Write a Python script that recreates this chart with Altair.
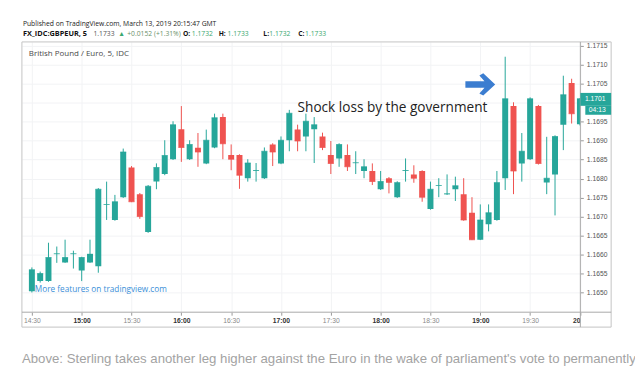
import altair as alt
import pandas as pd

# ---------------- data ----------------
DAY = "2019-03-13"
times = ["14:30", "14:35", "14:40", "14:45", "14:50", "14:55",
         "15:00", "15:05", "15:10", "15:15", "15:20", "15:25",
         "15:30", "15:35", "15:40", "15:45", "15:50", "15:55",
         "16:00", "16:05", "16:10", "16:15", "16:20", "16:25",
         "16:30", "16:35", "16:40", "16:45", "16:50", "16:55",
         "17:00", "17:05", "17:10", "17:15", "17:20", "17:25",
         "17:30", "17:35", "17:40", "17:45", "17:50", "17:55",
         "18:00", "18:05", "18:10", "18:15", "18:20", "18:25",
         "18:30", "18:35", "18:40", "18:45", "18:50", "18:55",
         "19:00", "19:05", "19:10", "19:15", "19:20", "19:25",
         "19:30", "19:35", "19:40", "19:45", "19:50", "19:55",
         "20:00"]
opens = [1.16503, 1.16530, 1.16530, 1.16601, 1.16579, 1.16601,
         1.16558, 1.16579, 1.16569, 1.16731, 1.16691, 1.16751,
         1.16829, 1.16759, 1.16659, 1.16792, 1.16812, 1.16851,
         1.16930, 1.16851, 1.16881, 1.16840, 1.16882, 1.16962,
         1.16862, 1.16862, 1.16801, 1.16820, 1.16801, 1.16890,
         1.16840, 1.16901, 1.16929, 1.16911, 1.16930, 1.16911,
         1.16862, 1.16853, 1.16862, 1.16841, 1.16820, 1.16820,
         1.16772, 1.16801, 1.16751, 1.16820, 1.16811, 1.16820,
         1.16720, 1.16781, 1.16759, 1.16772, 1.16759, 1.16710,
         1.16639, 1.16680, 1.16691, 1.16801, 1.16991, 1.16840,
         1.16851, 1.16991, 1.16790, 1.16811, 1.16942, 1.17052,
         1.16943]
highs = [1.16566, 1.16555, 1.16631, 1.16621, 1.16639, 1.16610,
         1.16594, 1.16639, 1.16775, 1.16792, 1.16757, 1.16879,
         1.16833, 1.16762, 1.16783, 1.16840, 1.16901, 1.16951,
         1.16991, 1.16901, 1.16920, 1.16929, 1.16971, 1.16971,
         1.16890, 1.16864, 1.16851, 1.16841, 1.16882, 1.16893,
         1.16911, 1.16981, 1.16942, 1.16971, 1.16962, 1.16921,
         1.16899, 1.16893, 1.16890, 1.16872, 1.16851, 1.16840,
         1.16820, 1.16804, 1.16793, 1.16853, 1.16835, 1.16822,
         1.16792, 1.16801, 1.16811, 1.16805, 1.16801, 1.16751,
         1.16732, 1.16732, 1.16820, 1.17121, 1.17001, 1.16920,
         1.17014, 1.16994, 1.16910, 1.16914, 1.17071, 1.17063,
         1.17012]
lows = [1.16500, 1.16526, 1.16528, 1.16578, 1.16578, 1.16563,
        1.16530, 1.16578, 1.16552, 1.16691, 1.16689, 1.16749,
        1.16738, 1.16694, 1.16657, 1.16772, 1.16809, 1.16849,
        1.16844, 1.16849, 1.16831, 1.16838, 1.16880, 1.16851,
        1.16822, 1.16773, 1.16792, 1.16792, 1.16799, 1.16833,
        1.16838, 1.16872, 1.16872, 1.16872, 1.16841, 1.16875,
        1.16812, 1.16831, 1.16820, 1.16812, 1.16801, 1.16783,
        1.16770, 1.16761, 1.16749, 1.16792, 1.16789, 1.16739,
        1.16718, 1.16751, 1.16757, 1.16741, 1.16689, 1.16638,
        1.16638, 1.16661, 1.16689, 1.16770, 1.16759, 1.16792,
        1.16849, 1.16837, 1.16759, 1.16703, 1.16875, 1.16945,
        1.16940]
closes = [1.16560, 1.16550, 1.16592, 1.16602, 1.16592, 1.16602,
          1.16592, 1.16601, 1.16772, 1.16732, 1.16739, 1.16870,
          1.16739, 1.16700, 1.16780, 1.16829, 1.16861, 1.16942,
          1.16882, 1.16890, 1.16870, 1.16901, 1.16960, 1.16892,
          1.16851, 1.16809, 1.16841, 1.16821, 1.16872, 1.16870,
          1.16901, 1.16972, 1.16899, 1.16951, 1.16942, 1.16882,
          1.16840, 1.16890, 1.16831, 1.16842, 1.16831, 1.16792,
          1.16792, 1.16790, 1.16790, 1.16821, 1.16801, 1.16751,
          1.16772, 1.16782, 1.16760, 1.16781, 1.16691, 1.16639,
          1.16691, 1.16710, 1.16790, 1.17010, 1.16820, 1.16872,
          1.17010, 1.16840, 1.16801, 1.16911, 1.17021, 1.16971,
          1.17010]

price_ticks = [1.1650, 1.1655, 1.1660, 1.1665, 1.1670, 1.1675, 1.1680,
               1.1685, 1.1690, 1.1695, 1.1700, 1.1705, 1.1710, 1.1715]
time_ticks = [(14, 30), (15, 0), (15, 30), (16, 0), (16, 30), (17, 0),
              (17, 30), (18, 0), (18, 30), (19, 0), (19, 30), (20, 0)]

last_price = 1.1701
countdown = "04:13"
annotation_text = "Shock loss by the government"
annotation_time = "17:10"
annotation_price = 1.16985
arrow_time = "19:00"
arrow_price = 1.17048

header1 = "Published on TradingView.com, March 13, 2019 20:15:47 GMT"
symbol_title = "British Pound / Euro, 5, IDC"
promo = "More features on tradingview.com"
caption = ("Above: Sterling takes another leg higher against the Euro in the wake "
           "of parliament's vote to permanently")

UP = "#26a69a"
DOWN = "#ef5350"

# ---------------- frames ----------------
df = pd.DataFrame({
    "t": [f"{DAY}T{t}:00" for t in times],
    "open": opens, "high": highs, "low": lows, "close": closes,
})
df["dir"] = ["up" if c >= o else "down" for o, c in zip(opens, closes)]


def dt(h, m, s=0):
    return alt.DateTime(year=2019, month=3, date=13, hours=h, minutes=m, seconds=s)


W, H = 562, 272

x_scale = alt.Scale(domain=[dt(14, 24, 0), dt(20, 0, 15)], padding=0)
y_scale = alt.Scale(domain=[1.16448, 1.17160], zero=False, nice=False, padding=0)

x_axis = alt.Axis(
    title=None, values=[dt(h, m) for h, m in time_ticks],
    labelExpr="hours(datum.value) == 20 ? '20' : timeFormat(datum.value, '%H:%M')",
    labelFontWeight={"condition": {"test": "minutes(datum.value) == 0", "value": "bold"},
                     "value": "normal"},
    labelColor={"condition": {"test": "minutes(datum.value) == 0", "value": "#333333"},
                "value": "#8a8a8a"},
    labelAlign={"condition": {"test": "hours(datum.value) == 20", "value": "right"},
                "value": "center"},
    labelFont="Liberation Sans", labelFontSize=6.8, labelPadding=2,
    labelOverlap=False, labelFlush=False, labelBound=False,
    domain=False, ticks=True, tickSize=3, tickColor="#9a9a9a",
    grid=True, gridColor="#f2f3f5",
)
# the 1.1700 label sits under the current-price box in the reference
y_axis = alt.Axis(
    title=None, orient="right", values=price_ticks,
    labelExpr=f"abs(datum.value - {last_price:.4f}) < 0.0002 ? '' : format(datum.value, '.4f')",
    labelFont="Liberation Sans", labelFontSize=6.8, labelColor="#555555",
    labelPadding=3, domain=False, ticks=True, tickSize=3, tickColor="#9a9a9a",
    grid=True, gridColor="#f2f3f5", labelOverlap=False,
)


def X(field):
    return alt.X(field, scale=x_scale, axis=x_axis)


def Y(field):
    return alt.Y(field, scale=y_scale, axis=y_axis)


base = alt.Chart(df).encode(x=X("t:T"))
color = alt.Color("dir:N", scale=alt.Scale(domain=["up", "down"], range=[UP, DOWN]),
                  legend=None)

wicks = base.mark_rule(strokeWidth=1, clip=True).encode(
    y=Y("low:Q"), y2="high:Q", color=color)
bodies = base.mark_bar(width=6, clip=True).encode(
    y=Y("open:Q"), y2="close:Q", color=color)
closes_tick = base.mark_tick(orient="horizontal", thickness=1, size=6, clip=True).encode(
    y=Y("close:Q"), color=color)

one = pd.DataFrame({"a": [0]})

ann = pd.DataFrame({"t": [f"{DAY}T{annotation_time}:00"], "p": [annotation_price],
                    "txt": [annotation_text]})
ann_text = alt.Chart(ann).mark_text(
    align="left", baseline="middle", font="Open Sans", fontSize=13.7, color="#222222"
).encode(x=X("t:T"), y=Y("p:Q"), text="txt:N")

arrow_df = pd.DataFrame({"t": [f"{DAY}T{arrow_time}:00"], "p": [arrow_price]})
ARROW = ("M -1 -0.22 L 0.28 -0.22 L -0.06 -0.6 L 0.2 -0.75 L 1 0 L 0.2 0.75 "
         "L -0.06 0.6 L 0.28 0.22 L -1 0.22 Z")
arrow = alt.Chart(arrow_df).mark_point(
    shape=ARROW, size=900, filled=True, color="#3b7dd0", opacity=1, strokeWidth=0
).encode(x=X("t:T"), y=Y("p:Q"))

# frame lines
frame = alt.Chart(one).mark_rect(fillOpacity=0, stroke="#c4c4c4", strokeWidth=1).encode(
    x=alt.value(0), x2=alt.value(593), y=alt.value(0), y2=alt.value(287))
sep_v = alt.Chart(one).mark_rule(color="#a8a8a8", strokeWidth=1).encode(
    x=alt.value(W), y=alt.value(0), y2=alt.value(287))
sep_h = alt.Chart(one).mark_rule(color="#a8a8a8", strokeWidth=1).encode(
    x=alt.value(0), x2=alt.value(593), y=alt.value(H))

# price label box
box1 = alt.Chart(one).mark_rect(color=UP, yOffset=-6, y2Offset=7).encode(
    x=alt.value(W), x2=alt.value(593), y=alt.datum(last_price, scale=y_scale, axis=y_axis),
    y2=alt.datum(last_price))
box2 = alt.Chart(one).mark_rect(color=UP, yOffset=7, y2Offset=16).encode(
    x=alt.value(W + 5), x2=alt.value(593), y=alt.datum(last_price, scale=y_scale, axis=y_axis),
    y2=alt.datum(last_price))
box_t1 = alt.Chart(one).mark_text(
    font="Liberation Sans", fontSize=6.8, color="white", align="center", baseline="middle"
).encode(x=alt.value(577), y=alt.datum(last_price, scale=y_scale, axis=y_axis),
         text=alt.value(f"{last_price:.4f}"))
box_t2 = alt.Chart(one).mark_text(
    font="Liberation Sans", fontSize=6.8, color="white", align="center", baseline="middle", dy=11
).encode(x=alt.value(579), y=alt.datum(last_price, scale=y_scale, axis=y_axis),
         text=alt.value(countdown))


def label(txt, x, y, size, color, font="Open Sans", weight="normal"):
    return alt.Chart(one).mark_text(
        text=txt, align="left", baseline="middle", font=font, fontSize=size,
        color=color, fontWeight=weight
    ).encode(x=alt.value(x), y=alt.value(y))


GREEN = "#3aa870"
BLK = "#111111"
texts = [
    label(header1, 1, -18, 6.8, "#222222"),
    label("FX_IDC:GBPEUR, 5", 1, -8, 7.4, BLK, weight="bold"),
    label("1.1733", 72, -8, 6.8, "#555555"),
    label("\u25b2", 97, -8, 6.8, GREEN),
    label("+0.0152 (+1.31%)", 106, -8, 6.8, "#6a8f6a"),
    label("O:", 162, -8, 6.8, BLK, weight="bold"),
    label("1.1732", 171, -8, 6.8, GREEN),
    label("H:", 198, -8, 6.8, BLK, weight="bold"),
    label("1.1733", 207, -8, 6.8, GREEN),
    label("L:", 243, -8, 6.8, BLK, weight="bold"),
    label("1.1732", 249, -8, 6.8, GREEN),
    label("C:", 278, -8, 6.8, BLK, weight="bold"),
    label("1.1733", 285, -8, 6.8, GREEN),
    label(symbol_title, 7, 12, 8, "#4a4a4a"),
    label(promo, 13, 250, 8.3, "#3a8fd8"),
    label(caption, 0, 319, 13.3, "#a3a3a3", font="Liberation Sans"),
]

chart = alt.layer(
    wicks, bodies, closes_tick, ann_text, arrow, frame, sep_v, sep_h,
    box1, box2, box_t1, box_t2, *texts
).properties(
    width=W, height=H,
    padding={"left": 14, "top": 33, "right": 55, "bottom": 53},
    autosize=alt.AutoSizeParams(type="none"),
    background="white",
).configure_view(stroke=None)

chart.save("out.html", embed_options={"renderer": "svg", "actions": False})
